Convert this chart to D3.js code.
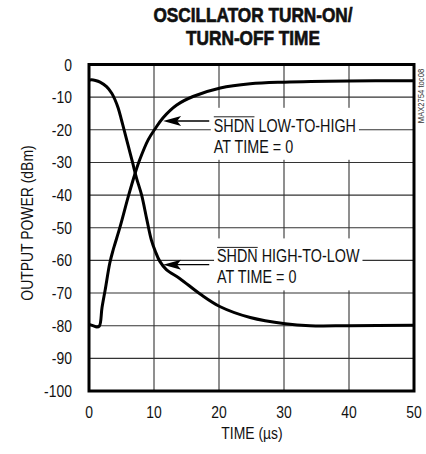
<!DOCTYPE html>
<html><head><meta charset="utf-8">
<script src="https://cdn.jsdelivr.net/npm/d3@7"></script>
<style>
html,body{margin:0;padding:0;background:#fff;}
svg{display:block;}
text{font-family:"Liberation Sans Narrow","Arial Narrow","Liberation Sans",sans-serif;fill:#111;}
</style></head>
<body>
<script>
// ---- data ----
const titleLines = ["OSCILLATOR TURN-ON/", "TURN-OFF TIME"];
const xTicks = [0, 10, 20, 30, 40, 50];
const yTicks = [0, -10, -20, -30, -40, -50, -60, -70, -80, -90, -100];
const xLabel = "TIME (\u00b5s)";
const yLabel = "OUTPUT POWER (dBm)";
const sideNote = "MAX2754 toc08";

// SHDN LOW-TO-HIGH (turn-on)
const onTime  = [0, 0.6, 1.2, 1.6, 2.0, 2.5, 3.2, 3.7, 4.0, 4.8, 6.05, 7.1, 7.8, 9.1, 10.2, 11.4, 13.5, 16, 20.2, 24.8, 30, 40, 50];
const onPower = [-79.6, -80.0, -80.4, -80.1, -74.5, -68.9, -60.8, -56.9, -54.9, -49.6, -40.4, -33.3, -29.2, -23.1, -19.6, -16.3, -12.4, -9.8, -7.2, -5.9, -5.4, -5.05, -5.0];
// SHDN HIGH-TO-LOW (turn-off)
const offTime  = [0, 0.4, 1.0, 1.7, 2.7, 3.5, 4.0, 4.5, 5.0, 5.4, 6.05, 6.7, 7.3, 8.1, 8.9, 9.6, 10.2, 10.9, 11.9, 14, 17.1, 20.2, 24.8, 30.2, 34, 40, 50];
const offPower = [-4.8, -4.7, -4.9, -5.4, -6.8, -8.8, -10.8, -13.4, -17.0, -20.0, -25.0, -30.0, -34.7, -40.0, -47.5, -53.8, -57.2, -60.3, -62.8, -65.6, -70.3, -74.2, -77.5, -79.4, -80.0, -80.0, -79.9];

const annotations = [
  {line1: "SHDN", rest: " LOW-TO-HIGH", line2: "AT TIME = 0", tipT: 11.4, tipP: -17.3, tailT: 18.5, textT: 19.2, textP: -20},
  {line1: "SHDN", rest: " HIGH-TO-LOW", line2: "AT TIME = 0", tipT: 11.4, tipP: -61.3, tailT: 18.5, textT: 19.7, textP: -60}
];

// ---- layout ----
const W = 426, H = 454;
const L = 89, R = 414, T = 64.5, B = 391;
const SX = 0.82; // condensed look

const svg = d3.select("body").append("svg").attr("width", W).attr("height", H);
const x = d3.scaleLinear().domain([0, 50]).range([L, R]);
const y = d3.scaleLinear().domain([-100, 0]).range([B, T]);

function ctext(parent, px, py, str, size, anchor, sx) {
  const g = parent.append("g").attr("transform", `translate(${px},${py}) scale(${sx},1)`);
  const t = g.append("text").attr("x", 0).attr("y", 0).attr("text-anchor", anchor || "start")
    .style("font-size", size + "px");
  if (str !== null) t.text(str);
  return t;
}

// title
titleLines.forEach((d, i) => {
  ctext(svg, 253, 22 + i * 23, d, 21, "middle", 0.82)
    .style("font-weight", "bold").style("stroke", "#111").style("stroke-width", 0.7);
});

// grid
const grid = svg.append("g").attr("stroke", "#333").attr("stroke-width", 1.1);
grid.selectAll("line.v").data(xTicks.slice(1, -1)).join("line")
  .attr("x1", d => x(d)).attr("x2", d => x(d)).attr("y1", T).attr("y2", B);
grid.selectAll("line.h").data(yTicks.slice(1, -1)).join("line")
  .attr("x1", L).attr("x2", R).attr("y1", d => y(d)).attr("y2", d => y(d));

const boxes = svg.append("g");

// curves
const line = d3.line().x(d => x(d[0])).y(d => y(d[1])).curve(d3.curveCatmullRom.alpha(0.5));
svg.append("path").datum(d3.zip(onTime, onPower)).attr("d", line)
  .attr("fill", "none").attr("stroke", "#000").attr("stroke-width", 3).attr("stroke-linejoin", "round");
svg.append("path").datum(d3.zip(offTime, offPower)).attr("d", line)
  .attr("fill", "none").attr("stroke", "#000").attr("stroke-width", 3).attr("stroke-linejoin", "round");

// annotations
annotations.forEach(a => {
  const tx = x(a.textT), ty = y(a.textP) + 2;
  const g = svg.append("g");
  const t1 = ctext(g, tx, ty, null, 17.5, "start", SX);
  const s = t1.append("tspan").text(a.line1);
  t1.append("tspan").text(a.rest);
  ctext(g, tx, ty + 21, a.line2, 17.5, "start", SX);
  const w1 = t1.node().getComputedTextLength() * SX;
  const sw = s.node().getComputedTextLength() * SX;
  boxes.append("rect").attr("x", tx - 3).attr("y", ty - 24).attr("width", w1 + 6).attr("height", 52).attr("fill", "#fff");
  g.append("line").attr("x1", tx).attr("x2", tx + sw).attr("y1", ty - 15).attr("y2", ty - 15)
    .attr("stroke", "#222").attr("stroke-width", 1);
  const tipX = x(a.tipT), tipY = y(a.tipP);
  g.append("line").attr("x1", tipX + 12).attr("x2", x(a.tailT)).attr("y1", tipY).attr("y2", tipY)
    .attr("stroke", "#000").attr("stroke-width", 1.3);
  g.append("path").attr("d", `M${tipX},${tipY} L${tipX + 18},${tipY - 5} L${tipX + 14},${tipY} L${tipX + 18},${tipY + 5} Z`)
    .attr("fill", "#000");
});

// frame
svg.append("rect").attr("x", L).attr("y", T).attr("width", R - L).attr("height", B - T)
  .attr("fill", "none").attr("stroke", "#000").attr("stroke-width", 3);

// tick labels
yTicks.forEach(d => {
  ctext(svg, 72, y(d) + 6, d, 17, "end", SX);
});
xTicks.forEach(d => {
  ctext(svg, x(d), 418, d, 17, "middle", SX);
});

// axis titles
ctext(svg, 252, 439, xLabel, 17, "middle", SX);
svg.append("g").attr("transform", "translate(33,223) rotate(-90) scale(0.82,1)")
  .append("text").attr("text-anchor", "middle").style("font-size", "17px").text(yLabel);

// side note
svg.append("g").attr("transform", "translate(424,96) rotate(-90) scale(0.85,1)")
  .append("text").attr("text-anchor", "middle").style("font-size", "9px").style("fill", "#333").text(sideNote);
</script>
</body></html>
